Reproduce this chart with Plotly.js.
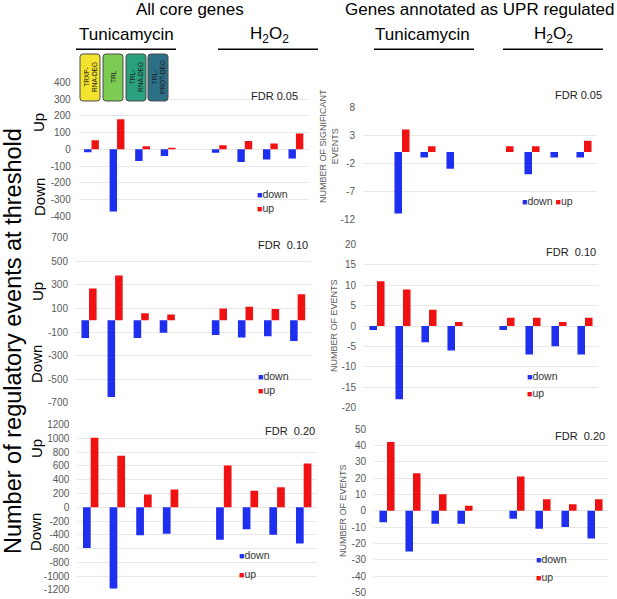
<!DOCTYPE html>
<html><head><meta charset="utf-8">
<script src="https://cdn.plot.ly/plotly-3.0.1.min.js"></script>
<style>html,body{margin:0;padding:0;background:#fff}#chart{width:617px;height:599px}</style>
</head><body><div id="chart"></div>
<script>
// ---- data ----
const measures = ['TRXP-RNA-DEG', 'TRL', 'TRL-RNA-DEG', 'TRL-PROT-DEG'];
const treatments = ['Tunicamycin', 'H2O2'];
const seriesNames = ['down', 'up'];
const panelLabels = ['FDR 0.05', 'FDR\u00a0 0.10', 'FDR\u00a0 0.20'];

// All core genes (first 4 = Tunicamycin, last 4 = H2O2)
const core005Down = [-18, -370, -70, -40, -20, -75, -60, -55];
const core005Up   = [55, 180, 18, 10, 25, 50, 35, 95];
const core010Down = [-150, -650, -150, -105, -125, -145, -135, -175];
const core010Up   = [270, 380, 60, 50, 100, 115, 95, 220];
const core020Down = [-590, -1180, -405, -385, -470, -320, -400, -525];
const core020Up   = [1010, 750, 185, 260, 605, 240, 290, 635];
// Genes annotated as UPR regulated
const upr005Down = [0, -11, -1, -3, 0, -4, -1, -1];
const upr005Up   = [0, 4, 1, 0, 1, 1, 0, 2];
const upr010Down = [-1, -18, -4, -6, -1, -7, -5, -7];
const upr010Up   = [11, 9, 4, 1, 2, 2, 1, 2];
const upr020Down = [-7, -25, -8, -8, -5, -11, -10, -17];
const upr020Up   = [42, 23, 10, 3, 21, 7, 4, 7];

// tick labels
const core005Ticks = [400, 300, 200, 100, 0, -100, -200, -300, -400];
const core010Ticks = [700, 500, 300, 100, -100, -300, -500, -700];
const core020Ticks = [1200, 1000, 800, 600, 400, 200, 0, -200, -400, -600, -800, -1000, -1200];
const upr005Ticks = [8, 3, -2, -7, -12];
const upr010Ticks = [20, 15, 10, 5, 0, -5, -10, -15, -20];
const upr020Ticks = [50, 40, 30, 20, 10, 0, -10, -20, -30, -40, -50];

// ---- helpers ----
const W = 617, H = 599;
const px = x => x / W;
const py = y => 1 - y / H;
const xCats = measures.map(m => treatments[0] + ' ' + m)
  .concat([' '])
  .concat(measures.map(m => treatments[1] + ' ' + m));
const withGap = a => a.slice(0, 4).concat([null]).concat(a.slice(4));

const BLUE = '#1f2ff0', RED = '#f01212';
const FONT = 'Arial, "Liberation Sans", sans-serif';

const panels = [
  {down: core005Down, up: core005Up, ticks: core005Ticks, x: [78.7, 308.7], y: [82, 216.7]},
  {down: core010Down, up: core010Up, ticks: core010Ticks, x: [76, 310.7], y: [237.3, 403.3]},
  {down: core020Down, up: core020Up, ticks: core020Ticks, x: [77.4, 317], y: [424.3, 590.3]},
  {down: upr005Down, up: upr005Up, ticks: upr005Ticks, x: [363, 597], y: [107, 219.3]},
  {down: upr010Down, up: upr010Up, ticks: upr010Ticks, x: [364, 598], y: [244.3, 407.7]},
  {down: upr020Down, up: upr020Up, ticks: upr020Ticks, x: [374, 608], y: [428.7, 592.7]}
];

const traces = [];
const layout = {
  width: W, height: H, margin: {l: 0, r: 0, t: 0, b: 0},
  paper_bgcolor: '#fff', plot_bgcolor: 'rgba(0,0,0,0)',
  showlegend: false, barmode: 'group', bargap: 0.42, bargroupgap: 0,
  font: {family: FONT, color: '#000'},
  annotations: [], shapes: []
};

panels.forEach((p, i) => {
  const n = i === 0 ? '' : String(i + 1);
  const xa = 'x' + n, ya = 'y' + n;
  traces.push({type: 'bar', name: seriesNames[0], x: xCats, y: withGap(p.down), xaxis: xa, yaxis: ya,
    marker: {color: BLUE, line: {width: 0}}, hoverinfo: 'skip'});
  traces.push({type: 'bar', name: seriesNames[1], x: xCats, y: withGap(p.up), xaxis: xa, yaxis: ya,
    marker: {color: RED, line: {width: 0}}, hoverinfo: 'skip'});
  const maxT = Math.max(...p.ticks), minT = Math.min(...p.ticks);
  const eps = (maxT - minT) * 0.002;
  layout['xaxis' + n] = {domain: [px(p.x[0]), px(p.x[1])], anchor: ya, type: 'category',
    categoryorder: 'array', categoryarray: xCats, range: [-0.5, 8.5],
    showticklabels: false, showgrid: false, zeroline: false, showline: false, ticks: '', fixedrange: true};
  layout['yaxis' + n] = {domain: [py(p.y[1]), py(p.y[0])], anchor: xa,
    range: [minT - eps, maxT + eps], tickmode: 'array', tickvals: p.ticks, ticktext: p.ticks.map(String),
    showgrid: true, gridcolor: '#e8e8e8', gridwidth: 1, zeroline: false, showline: false, ticks: '',
    tickfont: {family: FONT, size: 10, color: '#595959'}, ticklabelstandoff: 7, fixedrange: true};
});

function ann(text, x, y, opts) {
  layout.annotations.push(Object.assign({text: text, x: px(x), y: py(y), xref: 'paper', yref: 'paper',
    showarrow: false, xanchor: 'center', yanchor: 'middle', font: {family: FONT, size: 11, color: '#000'}}, opts || {}));
}
function line(x0, x1, y) {
  layout.shapes.push({type: 'line', xref: 'paper', yref: 'paper', x0: px(x0), x1: px(x1), y0: py(y), y1: py(y),
    line: {color: '#000', width: 1.6}});
}
function rrect(x0, y0, x1, y1, r, fill) {
  const X = v => px(v).toFixed(5), Y = v => py(v).toFixed(5);
  const path = 'M' + X(x0 + r) + ',' + Y(y0) + ' L' + X(x1 - r) + ',' + Y(y0) +
    ' Q' + X(x1) + ',' + Y(y0) + ' ' + X(x1) + ',' + Y(y0 + r) +
    ' L' + X(x1) + ',' + Y(y1 - r) + ' Q' + X(x1) + ',' + Y(y1) + ' ' + X(x1 - r) + ',' + Y(y1) +
    ' L' + X(x0 + r) + ',' + Y(y1) + ' Q' + X(x0) + ',' + Y(y1) + ' ' + X(x0) + ',' + Y(y1 - r) +
    ' L' + X(x0) + ',' + Y(y0 + r) + ' Q' + X(x0) + ',' + Y(y0) + ' ' + X(x0 + r) + ',' + Y(y0) + ' Z';
  layout.shapes.push({type: 'path', xref: 'paper', yref: 'paper', path: path, fillcolor: fill,
    line: {color: '#4a4a4a', width: 1}, layer: 'above'});
}

// headers
ann('All core genes', 190, 9, {font: {family: FONT, size: 17}});
ann('Genes annotated as UPR regulated', 479, 9, {font: {family: FONT, size: 17}});
const H2O2 = 'H<sub>2</sub>O<sub>2</sub>';
ann(treatments[0], 126, 35, {font: {family: FONT, size: 17}});
ann(H2O2, 269, 35, {font: {family: FONT, size: 17}});
ann(treatments[0], 422, 35, {font: {family: FONT, size: 17}});
ann(H2O2, 553, 35, {font: {family: FONT, size: 17}});
line(76, 176, 49.3); line(218, 318, 49.3); line(374, 474, 49.3); line(503, 603, 49.3);

// colored boxes for measure types
const boxColors = ['#f3e22e', '#7ccb52', '#29a07e', '#2e6f88'];
const boxText = ['TRXP-<br>RNA-DEG', 'TRL', 'TRL-<br>RNA-DEG', 'TRL-<br>PROT-DEG'];
const boxX = [80, 103, 126, 148];
boxX.forEach((bx, k) => {
  rrect(bx, 54, bx + 20, 101, 3, boxColors[k]);
  ann(boxText[k], bx + 10, 77, {textangle: -90, font: {family: FONT, size: 6.5, color: '#1a1a1a'}});
});

// big y title and Up/Down
ann('Number of regulatory events at threshold', 13, 341, {textangle: -90, font: {family: FONT, size: 23.5}});
[[39, 122, 'Up'], [39, 197, 'Down'], [37, 292, 'Up'], [36, 364, 'Down'], [36, 449, 'Up'], [35, 532, 'Down']]
  .forEach(d => ann(d[2], d[0], d[1], {textangle: -90, font: {family: FONT, size: 15}}));

// right y titles
ann('NUMBER OF SIGNIFICANT<br>EVENTS', 329, 146, {textangle: -90, font: {family: FONT, size: 9, color: '#595959'}});
ann('NUMBER OF EVENTS', 334, 326, {textangle: -90, font: {family: FONT, size: 9, color: '#595959'}});
ann('NUMBER OF EVENTS', 343, 511, {textangle: -90, font: {family: FONT, size: 9, color: '#595959'}});

// FDR labels
[[274.5, 95.7, 0], [283, 245, 1], [290, 431, 2], [578.5, 95, 0], [571, 252, 1], [580, 436, 2]]
  .forEach(d => ann(panelLabels[d[2]], d[0], d[1], {font: {family: FONT, size: 11, color: '#222'}}));

// legends
const sq = c => '<span style="color:' + c + ';font-size:9px">\u25A0</span>';
const legFont = {family: FONT, size: 10.5, color: '#333'};
function leg2(x, yd, yu) {
  ann(sq(BLUE) + seriesNames[0], x, yd, {xanchor: 'left', font: legFont});
  ann(sq(RED) + seriesNames[1], x, yu, {xanchor: 'left', font: legFont});
}
leg2(255, 194, 208);
leg2(256, 376, 390);
leg2(237, 555, 574);
ann(sq(BLUE) + seriesNames[0] + ' ' + sq(RED) + seriesNames[1], 520, 201, {xanchor: 'left', font: legFont});
leg2(525, 376, 393);
leg2(534, 559, 577);

Plotly.newPlot('chart', traces, layout, {staticPlot: true, displayModeBar: false});
</script>
</body></html>
